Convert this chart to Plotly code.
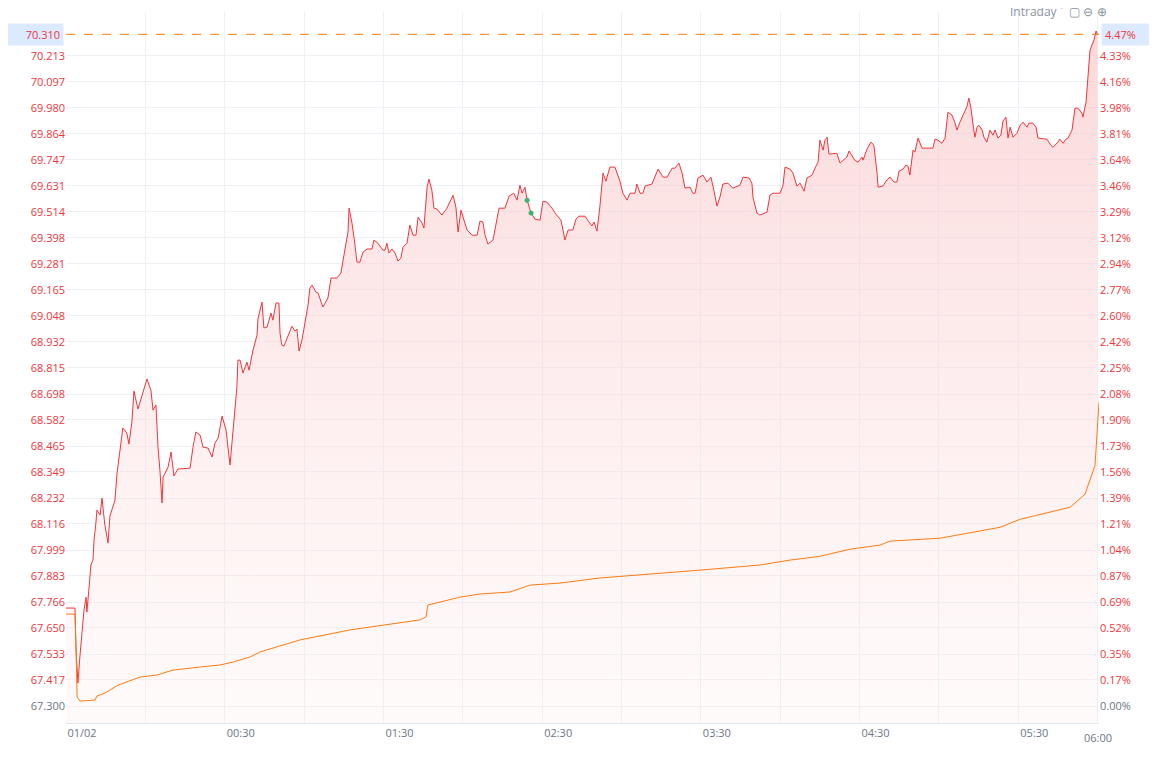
import plotly.graph_objects as go

# minutes after 23:30 (01/02 session start) and price
price_t = [0.0,3.4,3.8,4.5,5.3,6.0,6.8,7.6,7.9,8.7,9.4,10.2,10.6,11.3,11.7,12.9,13.6,14.7,15.9,16.6,18.5,19.3,20.8,21.5,23.0,23.8,24.9,25.7,27.2,29.1,30.6,32.1,32.9,34.0,34.8,35.5,36.3,36.7,38.6,39.7,40.8,42.3,46.9,48.0,49.1,50.7,51.8,53.7,55.2,56.3,57.5,59.0,60.5,62.0,63.1,63.9,64.6,65.0,65.8,66.9,68.4,69.2,70.7,72.2,72.6,74.1,74.8,76.0,77.5,78.2,79.4,80.5,80.9,81.6,82.4,85.4,86.6,87.3,88.1,89.2,90.3,91.5,92.2,93.0,94.5,95.3,97.1,99.0,100.2,102.4,103.9,104.7,105.8,106.6,107.0,108.1,108.9,110.0,111.1,112.3,113.8,115.7,116.4,117.9,119.8,120.6,121.3,122.1,123.2,124.4,125.5,126.6,127.4,128.9,130.0,131.2,132.3,133.1,134.6,135.3,136.5,137.2,138.3,139.1,140.2,142.1,144.0,144.8,145.9,146.3,147.4,148.2,149.3,150.1,151.6,153.5,155.4,156.5,157.6,158.4,159.5,161.4,162.5,163.7,165.9,167.5,169.3,170.5,171.6,172.4,173.5,174.3,175.8,177.3,179.2,180.3,181.8,183.7,185.2,187.1,187.9,188.6,189.8,191.6,192.8,193.9,196.2,197.7,198.8,199.6,200.7,201.8,203.0,204.1,205.6,207.5,209.4,210.5,212.1,213.2,215.1,215.8,217.0,218.1,218.9,221.5,223.8,225.7,227.2,229.1,230.2,231.7,232.8,234.0,235.9,237.0,237.8,238.9,240.8,242.3,243.8,244.9,246.1,247.2,248.3,250.2,252.1,254.8,255.9,258.2,259.3,259.7,261.2,262.3,265.0,266.1,267.3,269.9,271.0,271.8,273.7,274.8,276.3,277.5,279.0,280.1,282.0,283.5,284.3,285.0,286.2,286.9,287.7,288.4,291.4,292.6,295.2,296.0,298.2,299.4,300.9,301.3,302.8,304.3,305.4,306.6,307.0,308.8,310.3,311.5,313.0,314.1,314.9,316.4,317.5,318.3,319.0,320.2,320.9,322.1,323.6,327.7,328.5,329.6,331.1,332.3,333.4,334.9,336.0,336.8,337.9,339.8,340.6,341.3,342.1,342.8,343.6,344.4,345.1,346.3,347.0,348.1,349.3,350.4,351.2,352.3,353.4,354.2,355.3,356.1,356.9,358.0,359.5,360.7,361.8,363.3,364.0,365.5,366.7,367.4,370.8,372.3,373.1,375.0,375.7,376.9,378.0,378.8,380.3,381.4,382.5,384.0,384.4,385.6,385.9,386.3,387.1,388.6,389.4,389.9]
price_v = [67.739,67.739,67.551,67.403,67.529,67.618,67.730,67.788,67.721,67.829,67.932,67.954,68.044,68.120,68.178,68.156,68.232,68.111,68.030,68.151,68.223,68.344,68.478,68.546,68.523,68.474,68.572,68.711,68.631,68.702,68.765,68.716,68.626,68.649,68.456,68.357,68.210,68.326,68.371,68.438,68.331,68.362,68.366,68.460,68.528,68.514,68.460,68.456,68.416,68.478,68.501,68.599,68.537,68.380,68.514,68.626,68.729,68.850,68.850,68.792,68.841,68.805,68.895,68.962,69.038,69.110,68.994,68.998,69.061,69.029,69.106,69.106,68.971,68.917,68.913,69.002,68.980,68.989,68.891,68.940,69.020,69.097,69.173,69.186,69.155,69.150,69.088,69.128,69.218,69.218,69.240,69.298,69.365,69.424,69.531,69.464,69.397,69.289,69.289,69.334,69.348,69.348,69.388,69.374,69.343,69.343,69.374,69.330,69.348,69.330,69.294,69.307,69.356,69.374,69.455,69.410,69.410,69.491,69.464,69.442,69.625,69.661,69.612,69.531,69.527,69.500,69.531,69.554,69.580,69.589,69.536,69.424,69.522,69.491,69.433,69.410,69.410,69.473,69.469,69.410,69.370,69.388,69.464,69.531,69.531,69.585,69.598,69.567,69.634,69.598,69.625,69.567,69.509,69.482,69.477,69.562,69.558,69.531,69.504,69.477,69.433,69.388,69.433,69.433,69.482,69.495,69.495,69.469,69.451,69.469,69.428,69.536,69.688,69.652,69.715,69.715,69.652,69.598,69.567,69.598,69.598,69.639,69.598,69.598,69.630,69.639,69.706,69.670,69.670,69.710,69.710,69.733,69.692,69.621,69.625,69.598,69.598,69.666,69.679,69.648,69.670,69.612,69.540,69.580,69.639,69.643,69.621,69.634,69.670,69.666,69.643,69.580,69.509,69.500,69.513,69.589,69.598,69.598,69.630,69.715,69.706,69.688,69.630,69.643,69.607,69.666,69.679,69.719,69.737,69.836,69.791,69.836,69.849,69.773,69.777,69.733,69.760,69.787,69.746,69.737,69.760,69.746,69.796,69.827,69.813,69.688,69.625,69.630,69.657,69.670,69.648,69.648,69.697,69.706,69.724,69.719,69.679,69.791,69.782,69.845,69.800,69.800,69.840,69.836,69.822,69.845,69.961,69.948,69.916,69.881,69.916,69.966,69.988,70.024,69.979,69.912,69.849,69.894,69.903,69.881,69.849,69.827,69.881,69.858,69.881,69.845,69.858,69.921,69.939,69.845,69.894,69.849,69.867,69.903,69.916,69.894,69.912,69.912,69.894,69.845,69.840,69.813,69.804,69.827,69.840,69.822,69.840,69.845,69.881,69.979,69.979,69.957,69.939,70.006,70.060,70.105,70.239,70.284,70.325,70.310]

avg_t = [0.0,3.4,3.8,4.2,5.3,11.0,11.7,14.7,19.7,24.2,28.0,34.4,40.4,50.7,58.2,63.1,69.6,73.3,88.4,107.3,118.7,133.8,136.1,136.8,141.4,148.9,156.5,167.8,175.4,186.7,201.9,217.0,239.7,262.3,273.7,285.0,296.4,307.7,311.5,330.4,341.8,353.1,360.7,372.0,379.6,385.2,389.0,390.5]
avg_v = [67.712,67.712,67.551,67.340,67.322,67.327,67.345,67.358,67.394,67.412,67.430,67.439,67.461,67.475,67.484,67.497,67.520,67.542,67.596,67.641,67.659,67.686,67.699,67.753,67.766,67.788,67.802,67.811,67.842,67.851,67.874,67.887,67.909,67.932,67.954,67.971,68.003,68.021,68.039,68.052,68.075,68.101,68.137,68.169,68.191,68.249,68.379,68.662]

hover_t = [174.3, 175.8]
hover_v = [69.567, 69.509]

base_price = 67.300
last_price = 70.310
y_ticks = [67.300,67.417,67.533,67.650,67.766,67.883,67.999,68.116,68.232,68.349,68.465,68.582,68.698,68.815,68.932,69.048,69.165,69.281,69.398,69.514,69.631,69.747,69.864,69.980,70.097,70.213]
pct_labels = ["0.00%","0.17%","0.35%","0.52%","0.69%","0.87%","1.04%","1.21%","1.39%","1.56%","1.73%","1.90%","2.08%","2.25%","2.42%","2.60%","2.77%","2.94%","3.12%","3.29%","3.46%","3.64%","3.81%","3.98%","4.16%","4.33%"]
x_ticks = [0,30,60,90,120,150,180,210,240,270,300,330,360,390]
x_labels = ["01/02","","00:30","","01:30","","02:30","","03:30","","04:30","","05:30",""]

RED = "#f0353b"
GRAY = "#6b7785"
YMIN, YMAX = 67.224, 70.410

def col(txt, v):
    c = GRAY if abs(v - base_price) < 1e-6 else RED
    return f'<span style="color:{c}">{txt}</span>'

fig = go.Figure()
fig.add_trace(go.Scatter(x=[price_t[0], price_t[-1]], y=[YMIN, YMIN], mode="lines",
                         line=dict(width=0), hoverinfo="skip", showlegend=False))
fig.add_trace(go.Scatter(x=price_t, y=price_v, mode="lines", line=dict(color=RED, width=1),
                         fill="tonexty",
                         fillgradient=dict(type="vertical", start=YMIN, stop=last_price,
                                           colorscale=[[0, "rgba(255,235,235,0.25)"], [1, "rgba(248,190,192,0.6)"]]),
                         showlegend=False))
fig.add_trace(go.Scatter(x=avg_t, y=avg_v, mode="lines", line=dict(color="#ff7a12", width=1), showlegend=False))
fig.add_trace(go.Scatter(x=hover_t, y=hover_v, mode="markers", marker=dict(color="#3cb371", size=5), showlegend=False))
fig.add_trace(go.Scatter(x=[0], y=[YMIN], yaxis="y2", mode="markers", marker=dict(opacity=0), showlegend=False, hoverinfo="skip"))

fig.add_shape(type="line", xref="paper", x0=0, x1=1, y0=last_price, y1=last_price,
              line=dict(color="#ff7a12", width=1, dash="dash"))

fig.add_annotation(xref="paper", x=0, y=last_price, xanchor="right", text=f"{last_price:.3f}",
                   showarrow=False, font=dict(color=RED, size=11), bgcolor="#dbeafe",
                   borderpad=3, xshift=-2, width=56, align="right")
fig.add_annotation(xref="paper", x=1, y=last_price, xanchor="left", text=f"{(last_price/base_price-1)*100:.2f}%",
                   showarrow=False, font=dict(color=RED, size=11), bgcolor="#dbeafe",
                   borderpad=3, xshift=2, width=48, align="left")
fig.add_annotation(x=390, yref="paper", y=0, yanchor="top", text="06:00", showarrow=False,
                   font=dict(color=GRAY, size=11), yshift=-5)
fig.add_annotation(xref="paper", yref="paper", x=1.0, y=1.0, xanchor="right", yanchor="bottom",
                   text="Intraday ˅  ▢ ⊖ ⊕", showarrow=False, font=dict(color="#8a94a0", size=12),
                   yshift=-10, xshift=10)

fig.update_layout(
    width=1157, height=757, paper_bgcolor="white", plot_bgcolor="white",
    margin=dict(l=58, r=66, t=4, b=42),
    font=dict(family="Open Sans, Noto Sans, sans-serif", size=11, color=GRAY),
    xaxis=dict(range=[0, 390.5], tickvals=x_ticks, ticktext=x_labels, showgrid=True,
               gridcolor="#edf0f4", showline=True, linecolor="#e1e6ec", ticks="",
               ticklabelshift=16, zeroline=False, tickfont=dict(color=GRAY)),
    yaxis=dict(range=[YMIN, YMAX], tickvals=y_ticks, ticktext=[col(f"{v:.3f}", v) for v in y_ticks],
               showgrid=True, gridcolor="#edf0f4", zeroline=False, ticks=""),
    yaxis2=dict(range=[YMIN, YMAX], overlaying="y", side="right", tickvals=y_ticks,
                ticktext=[col(p, v) for p, v in zip(pct_labels, y_ticks)], showgrid=False,
                zeroline=False, ticks="", ticklabelposition="outside"),
)
fig.write_html("out.html")
